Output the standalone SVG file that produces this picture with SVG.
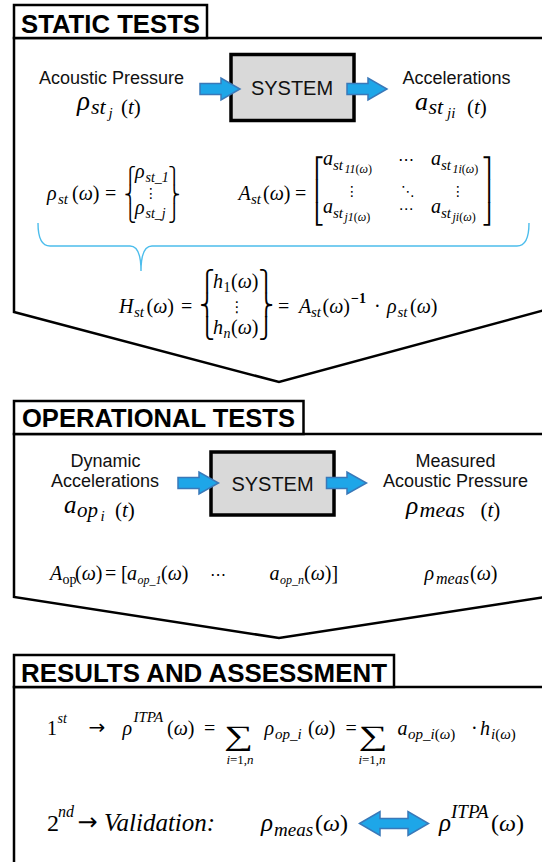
<svg xmlns="http://www.w3.org/2000/svg" width="542" height="862" viewBox="0 0 542 862">
<style>
.frame{fill:#fff;stroke:#000;stroke-width:2.5;stroke-linejoin:miter}
.title{font-family:"Liberation Sans",Arial,sans-serif;font-weight:bold;font-size:25.5px;fill:#000}
.lbl{font-family:"Liberation Sans",Arial,sans-serif;font-size:18px;fill:#111;text-anchor:middle}
.sys{fill:#d9d9d9;stroke:#000;stroke-width:3.5}
.systxt{font-family:"Liberation Sans",Arial,sans-serif;font-size:20px;fill:#111;text-anchor:middle}
.m{font-family:"Liberation Serif","Times New Roman",serif;font-style:italic;fill:#000}
.u{font-style:normal}
.d{font-family:"DejaVu Sans",sans-serif;font-style:normal;fill:#000}
.arr{fill:#1ea6e8;stroke:#3a78b8;stroke-width:1.5;stroke-linejoin:miter}
.brace{fill:none;stroke:#4cbdec;stroke-width:1.4}
</style>

<g id="static-tests">
<path class="frame" d="M14,38 H545 V310 L279,382 L14,312 Z"/>
<rect class="frame" x="14" y="5" width="193" height="33"/>
<text class="title" x="21" y="32.5" textLength="179" lengthAdjust="spacingAndGlyphs">STATIC TESTS</text>
<text class="lbl" x="111.5" y="83.5">Acoustic Pressure</text>
<text class="lbl" x="456.5" y="83.5">Accelerations</text>
<text class="m" font-size="21"><tspan x="77" y="109.5" font-size="27">ρ</tspan><tspan x="91" y="114" font-size="22">st</tspan><tspan x="108.5" y="118" font-size="15">j</tspan><tspan x="121" y="114"><tspan class="u">(</tspan>t<tspan class="u">)</tspan></tspan></text>
<text class="m" font-size="21"><tspan x="415" y="109.5" font-size="26">a</tspan><tspan x="428.5" y="114" font-size="22">st</tspan><tspan x="447" y="118" font-size="15">ji</tspan><tspan x="467" y="114"><tspan class="u">(</tspan>t<tspan class="u">)</tspan></tspan></text>
</g>

<g id="static-system">
<rect class="sys" x="231" y="54.5" width="123" height="66"/>
<text class="systxt" x="292" y="94.5">SYSTEM</text>
</g>

<g id="static-formulas">
<text class="m" font-size="20"><tspan x="47" y="200">ρ</tspan><tspan x="58" y="204" font-size="15">st</tspan><tspan x="72" y="200"><tspan class="u">(</tspan>ω<tspan class="u">)</tspan></tspan><tspan class="u" x="105" y="200">=</tspan></text>
<text class="d" font-size="16.3" text-anchor="middle"><tspan x="130" y="181.1">⎧</tspan><tspan x="130" y="200.1">⎨</tspan><tspan x="130" y="219.2">⎩</tspan></text>
<text class="m" font-size="20"><tspan x="135" y="178">ρ</tspan><tspan x="145.5" y="182" font-size="14">st_1</tspan></text>
<text class="d" font-size="14" text-anchor="middle" x="151" y="197.5">⋮</text>
<text class="m" font-size="20"><tspan x="135" y="214">ρ</tspan><tspan x="145.5" y="218" font-size="14">st_j</tspan></text>
<text class="d" font-size="16.3" text-anchor="middle"><tspan x="174" y="181.1">⎫</tspan><tspan x="174" y="200.1">⎬</tspan><tspan x="174" y="219.2">⎭</tspan></text>

<text class="m" font-size="20"><tspan x="238.5" y="200">A</tspan><tspan x="251" y="204" font-size="15">st</tspan><tspan x="263" y="200"><tspan class="u">(</tspan>ω<tspan class="u">)</tspan></tspan><tspan class="u" x="295" y="200">=</tspan></text>
<text class="d" font-size="20"><tspan x="314" y="174.6">⎡</tspan><tspan x="314" y="197.9">⎢</tspan><tspan x="314" y="221.3">⎣</tspan></text>
<text class="m" font-size="20"><tspan x="323" y="165">a</tspan><tspan x="333" y="169.5" font-size="15">st</tspan><tspan x="344.5" y="173" font-size="12">11<tspan class="u">(</tspan>ω<tspan class="u">)</tspan></tspan></text>
<text class="d" font-size="16" text-anchor="middle" x="406" y="165">⋯</text>
<text class="m" font-size="20"><tspan x="431" y="165">a</tspan><tspan x="441" y="169.5" font-size="15">st</tspan><tspan x="452.5" y="173" font-size="12">1i<tspan class="u">(</tspan>ω<tspan class="u">)</tspan></tspan></text>
<text class="d" font-size="14" text-anchor="middle"><tspan x="352" y="196">⋮</tspan><tspan x="408" y="195.5">⋱</tspan><tspan x="458" y="196">⋮</tspan></text>
<text class="m" font-size="20"><tspan x="323" y="213">a</tspan><tspan x="333" y="217.5" font-size="15">st</tspan><tspan x="344.5" y="221" font-size="12">j1<tspan class="u">(</tspan>ω<tspan class="u">)</tspan></tspan></text>
<text class="d" font-size="15" text-anchor="middle" x="406" y="214">⋯</text>
<text class="m" font-size="20"><tspan x="431" y="213">a</tspan><tspan x="441" y="217.5" font-size="15">st</tspan><tspan x="452.5" y="221" font-size="12">ji<tspan class="u">(</tspan>ω<tspan class="u">)</tspan></tspan></text>
<text class="d" font-size="20"><tspan x="482" y="174.6">⎤</tspan><tspan x="482" y="197.9">⎥</tspan><tspan x="482" y="221.3">⎦</tspan></text>

<path class="brace" d="M38,223 Q38,246 50,246 H130 Q141,246 141,271 Q141,246 152,246 H517 Q529,246 529,223"/>

<text class="m" font-size="20"><tspan x="119" y="313">H</tspan><tspan x="134" y="317" font-size="15">st</tspan><tspan x="146.5" y="313"><tspan class="u">(</tspan>ω<tspan class="u">)</tspan></tspan><tspan class="u" x="181" y="313">=</tspan></text>
<text class="d" font-size="20.4" text-anchor="middle"><tspan x="207" y="288">⎧</tspan><tspan x="207" y="311.6">⎨</tspan><tspan x="207" y="335.2">⎩</tspan></text>
<text class="m" font-size="20"><tspan x="213" y="288">h</tspan><tspan class="u" x="223.5" y="292" font-size="14">1</tspan><tspan x="231" y="288"><tspan class="u">(</tspan>ω<tspan class="u">)</tspan></tspan></text>
<text class="d" font-size="15" text-anchor="middle" x="237" y="312">⋮</text>
<text class="m" font-size="20"><tspan x="213" y="334">h</tspan><tspan x="223.5" y="338" font-size="14">n</tspan><tspan x="231" y="334"><tspan class="u">(</tspan>ω<tspan class="u">)</tspan></tspan></text>
<text class="d" font-size="20.4" text-anchor="middle"><tspan x="266" y="288">⎫</tspan><tspan x="266" y="311.6">⎬</tspan><tspan x="266" y="335.2">⎭</tspan></text>
<text class="m" font-size="20"><tspan class="u" x="278" y="313">=</tspan><tspan x="299" y="313">A</tspan><tspan x="311" y="317" font-size="15">st</tspan><tspan x="322.5" y="313"><tspan class="u">(</tspan>ω<tspan class="u">)</tspan></tspan><tspan class="u" x="351" y="303" font-size="14" font-weight="bold">−1</tspan><tspan class="u" x="374" y="313">·</tspan><tspan x="387" y="313">ρ</tspan><tspan x="397.5" y="317" font-size="15">st</tspan><tspan x="410" y="313"><tspan class="u">(</tspan>ω<tspan class="u">)</tspan></tspan></text>
</g>

<g id="operational-tests">
<path class="frame" d="M14,434 H545 V597 L279,638 L14,597 Z"/>
<rect class="frame" x="14" y="401" width="289.5" height="33"/>
<text class="title" x="22" y="427" textLength="273" lengthAdjust="spacingAndGlyphs">OPERATIONAL TESTS</text>
<text class="lbl" x="105.5" y="466.5">Dynamic</text>
<text class="lbl" x="105" y="486.5">Accelerations</text>
<text class="lbl" x="455.5" y="466.5">Measured</text>
<text class="lbl" x="455.5" y="486.5">Acoustic Pressure</text>
<text class="m" font-size="21"><tspan x="64" y="513" font-size="25">a</tspan><tspan x="77" y="517" font-size="21">op</tspan><tspan x="100.5" y="521" font-size="15">i</tspan><tspan x="115" y="517"><tspan class="u">(</tspan>t<tspan class="u">)</tspan></tspan></text>
<text class="m" font-size="21"><tspan x="406" y="513.5" font-size="25.5">ρ</tspan><tspan x="419.5" y="517" font-size="22">meas</tspan><tspan x="480.5" y="517"><tspan class="u">(</tspan>t<tspan class="u">)</tspan></tspan></text>
</g>

<g id="operational-system">
<rect class="sys" x="211" y="452" width="123" height="63"/>
<text class="systxt" x="272.5" y="491">SYSTEM</text>
</g>

<g id="operational-formulas">
<text class="m" font-size="20"><tspan x="50" y="579.5">A</tspan><tspan class="u" x="62.5" y="583.5" font-size="14">op</tspan><tspan x="75" y="579.5"><tspan class="u">(</tspan>ω<tspan class="u">)</tspan></tspan><tspan class="u" x="105" y="579.5">=</tspan><tspan class="u" x="121" y="579.5">[</tspan><tspan x="127" y="579.5">a</tspan><tspan x="137.5" y="583.5" font-size="12">op_1</tspan><tspan x="161" y="579.5"><tspan class="u">(</tspan>ω<tspan class="u">)</tspan></tspan></text>
<text class="d" font-size="16" text-anchor="middle" x="218" y="579.5">⋯</text>
<text class="m" font-size="20"><tspan x="269.5" y="579.5">a</tspan><tspan x="280" y="583.5" font-size="12">op_n</tspan><tspan x="304" y="579.5"><tspan class="u">(</tspan>ω<tspan class="u">)]</tspan></tspan></text>
<text class="m" font-size="20"><tspan x="424.5" y="579.5">ρ</tspan><tspan x="436" y="583.5" font-size="16">meas</tspan><tspan x="470" y="579.5"><tspan class="u">(</tspan>ω<tspan class="u">)</tspan></tspan></text>
</g>

<g id="results-assessment">
<path class="frame" d="M14,687 H545 V880 H14 Z"/>
<rect class="frame" x="14" y="655" width="380" height="32"/>
<text class="title" x="21" y="681.5" textLength="366" lengthAdjust="spacingAndGlyphs">RESULTS AND ASSESSMENT</text>
<text class="m" font-size="20"><tspan class="u" x="47" y="735">1</tspan><tspan x="57.5" y="723" font-size="14">st</tspan><tspan x="122.5" y="735">ρ</tspan><tspan x="133.5" y="722" font-size="15">ITPA</tspan><tspan x="167" y="735"><tspan class="u">(</tspan>ω<tspan class="u">)</tspan></tspan><tspan class="u" x="204" y="735">=</tspan></text>
<text class="d" font-size="20" x="88.5" y="734">→</text>
<text class="m u" font-size="28" text-anchor="middle" transform="translate(238.5,745) scale(1.45,1)">∑</text>
<text class="m" font-size="13" text-anchor="middle" x="240" y="764">i<tspan class="u">=1,</tspan>n</text>
<text class="m" font-size="20"><tspan x="264.5" y="735">ρ</tspan><tspan x="275" y="739" font-size="15">op_i</tspan><tspan x="308" y="735"><tspan class="u">(</tspan>ω<tspan class="u">)</tspan></tspan><tspan class="u" x="345.5" y="735">=</tspan></text>
<text class="m u" font-size="28" text-anchor="middle" transform="translate(373,745) scale(1.45,1)">∑</text>
<text class="m" font-size="13" text-anchor="middle" x="372" y="764">i<tspan class="u">=1,</tspan>n</text>
<text class="m" font-size="20"><tspan x="397.5" y="735">a</tspan><tspan x="408" y="739" font-size="15">op_i<tspan class="u">(</tspan>ω<tspan class="u">)</tspan></tspan><tspan class="u" x="471" y="735">·</tspan><tspan x="480" y="735">h</tspan><tspan x="491" y="739" font-size="15">i<tspan class="u">(</tspan>ω<tspan class="u">)</tspan></tspan></text>

<text class="m" font-size="24"><tspan class="u" x="47" y="831">2</tspan><tspan x="58" y="817" font-size="16">nd</tspan><tspan x="104" y="831" font-size="25">Validation:</tspan><tspan x="261" y="831" font-size="25">ρ</tspan><tspan x="274" y="836" font-size="19">meas</tspan><tspan x="315" y="831"><tspan class="u">(</tspan>ω<tspan class="u">)</tspan></tspan><tspan x="439" y="831" font-size="25">ρ</tspan><tspan x="451" y="818" font-size="19">ITPA</tspan><tspan x="491" y="831"><tspan class="u">(</tspan>ω<tspan class="u">)</tspan></tspan></text>
<text class="d" font-size="24" x="77.5" y="830">→</text>
</g>

<g id="connectors">
<path class="arr" d="M200,83.5 H221 V78 L240,89 L221,100 V94.5 H200 Z"/>
<path class="arr" d="M347,83.5 H368 V78 L387,89 L368,100 V94.5 H347 Z"/>
<path class="arr" d="M178,477.5 H199 V472 L218.5,483 L199,494 V488.5 H178 Z"/>
<path class="arr" d="M326.5,477.5 H347 V472 L366.5,483 L347,494 V488.5 H326.5 Z"/>
<path class="arr" d="M359.5,823.5 L380,811.5 V818.5 H408 V811.5 L428.5,823.5 L408,835.5 V828.5 H380 V835.5 Z"/>
</g>
</svg>
